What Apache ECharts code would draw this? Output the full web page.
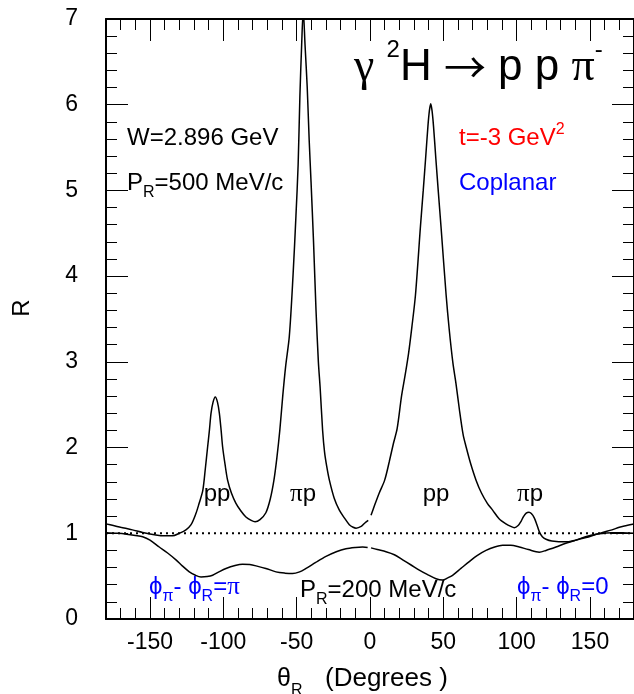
<!DOCTYPE html>
<html><head><meta charset="utf-8">
<script src="https://cdn.jsdelivr.net/npm/echarts@6/dist/echarts.min.js"></script>
<style>html,body{margin:0;padding:0;background:#fff}#c{width:634px;height:694px}</style>
</head><body><div id="c"></div>
<script>
// ---- data (theta_R in degrees, R) ----
const xMajorTicks = [-150, -100, -50, 0, 50, 100, 150];
// P_R = 500 MeV/c curve, theta < 0 piece
const highLeft = [[-180,1.11],[-175,1.09],[-170,1.07],[-162,1.04],[-155,1.01],[-146,0.98],[-140,0.97],[-134.6,0.97],[-130,1.0],[-125.5,1.04],[-122,1.1],[-118.7,1.23],[-116.5,1.35],[-114,1.5],[-112.3,1.75],[-110.7,2.01],[-109.5,2.2],[-108.4,2.4],[-107,2.53],[-105.5,2.59],[-104,2.53],[-102.7,2.4],[-101.5,2.2],[-100.5,2.01],[-98.8,1.8],[-97.1,1.62],[-94.5,1.47],[-91.4,1.35],[-88,1.26],[-84.6,1.19],[-81,1.15],[-78.4,1.135],[-75,1.16],[-71,1.24],[-68,1.4],[-65.5,1.62],[-63.5,1.88],[-61.5,2.2],[-59.5,2.6],[-57.5,2.95],[-55,3.3],[-52.5,4.0],[-50.5,4.7],[-49,5.3],[-47.8,6.1],[-46.6,6.7],[-45.5,7.1],[-44.3,6.7],[-42.8,6.2],[-41.5,5.6],[-40.2,5.1],[-38.5,4.4],[-36.8,3.6],[-35.2,3.0],[-34,2.7],[-32.3,2.2],[-31,1.95],[-29.5,1.78],[-27.7,1.62],[-24.4,1.41],[-20.9,1.27],[-17.5,1.18],[-14.1,1.1],[-11.5,1.07],[-9.5,1.06],[-6,1.08],[-3.5,1.12],[-1.2,1.15]];
// P_R = 500 MeV/c curve, theta > 0 piece
const highRight = [[0.7,1.21],[3,1.32],[6.3,1.47],[10,1.62],[13.2,1.84],[16,2.05],[18.5,2.22],[21.5,2.6],[24,2.85],[26.3,3.1],[28.5,3.4],[31,3.78],[34.4,4.58],[36.3,5.0],[37.9,5.37],[39.5,5.75],[40.5,5.93],[41.4,6.01],[42.3,5.93],[43.3,5.75],[44.9,5.37],[46.6,4.98],[48.4,4.58],[51.9,3.78],[54,3.38],[56.5,2.99],[58.6,2.75],[60.9,2.45],[63.5,2.15],[65.5,2.01],[68.5,1.82],[72.3,1.62],[76,1.47],[80,1.35],[83.6,1.27],[88,1.17],[92.7,1.11],[96,1.08],[98.4,1.065],[101,1.09],[103,1.14],[104.5,1.19],[106.5,1.235],[108.4,1.245],[110,1.23],[112,1.18],[113.8,1.1],[115.4,1.02],[117.5,0.96],[120,0.93],[124,0.91],[133.6,0.9],[140,0.92],[147.3,0.95],[153,0.98],[158.6,1.01],[165,1.04],[170,1.07],[175,1.09],[180,1.11]];
// P_R = 200 MeV/c curve
const lowLeft = [[-180,1.007],[-172,1.0],[-166,0.99],[-160,0.975],[-155,0.96],[-150,0.92],[-143.7,0.84],[-138,0.77],[-132.3,0.69],[-128,0.62],[-123.2,0.55],[-119,0.51],[-115.2,0.49],[-111,0.495],[-107.3,0.51],[-103,0.55],[-98.2,0.59],[-92,0.625],[-86.9,0.64],[-82,0.635],[-77.7,0.62],[-71,0.59],[-64.1,0.55],[-58,0.535],[-52.8,0.53],[-48,0.55],[-43.6,0.59],[-37,0.66],[-30,0.73],[-23,0.785],[-16.4,0.82],[-10,0.835],[-5,0.84],[-1.6,0.835]];
const lowRight = [[0.7,0.83],[5,0.81],[10.9,0.785],[16.6,0.75],[22.3,0.69],[28,0.63],[33.6,0.57],[39,0.52],[45,0.47],[49.5,0.455],[53,0.48],[56.3,0.51],[62,0.59],[67.7,0.67],[73,0.74],[79.1,0.8],[85,0.84],[90.4,0.86],[96,0.86],[101.8,0.84],[108,0.81],[115.4,0.78],[120,0.8],[126.8,0.84],[133,0.88],[140.5,0.92],[147,0.96],[154.1,0.99],[160,1.0],[165.4,1.007],[172,1.005],[180,1.0]];
const unityLine = [[-180,1],[180,1]];

const F = '"Liberation Sans", Arial, Helvetica, sans-serif';
const FS = '"Liberation Serif", "Times New Roman", serif';
const chart = echarts.init(document.getElementById('c'), null, {renderer:'canvas'});

function xAxisDef(pos, major, labels, line) {
  const a = {
    type:'value', min:-180, max:180, position:pos, gridIndex:0,
    axisLine:{show:line, onZero:false, lineStyle:{color:'#000', width:2}},
    splitLine:{show:false},
    axisLabel:{show:labels, color:'#000', fontSize:23, fontFamily:F, margin:12},
    axisTick:{show:true, inside:true, length: major ? 22 : 11, lineStyle:{color:'#000', width:1}}
  };
  if (major) { a.axisTick.customValues = xMajorTicks; a.axisLabel.customValues = xMajorTicks; }
  else { a.interval = 10; a.axisLabel.show = false; }
  return a;
}
function yAxisDef(pos, labels) {
  return {
    type:'value', min:0, max:7, interval:1, position:pos, gridIndex:0,
    axisLine:{show:true, onZero:false, lineStyle:{color:'#000', width:2}},
    splitLine:{show:false},
    axisLabel:{show:labels, color:'#000', fontSize:23, fontFamily:F, margin:28},
    axisTick:{show:true, inside:true, length:22, lineStyle:{color:'#000', width:1}},
    minorTick:{show:true, splitNumber:5, length:11, lineStyle:{color:'#000', width:1}}
  };
}
function curve(data) {
  return {type:'line', data:data, showSymbol:false, smooth:0.3, clip:true,
    lineStyle:{color:'#000', width:1.5}, xAxisIndex:0, yAxisIndex:0, z:3};
}
function txt(x, y, text, color, size, opts) {
  opts = opts || {};
  return {type:'text', x:x, y:y, z:100, rotation: opts.rotation || 0,
    style:{text:text, fill:color, fontSize:size, fontFamily:F,
      align: opts.align || 'left', verticalAlign:'middle',
      lineHeight: opts.lh || size + 2, rich: opts.rich || {}}};
}
function subStyle(color) {
  return {fontSize:16, fontFamily:F, lineHeight:16, verticalAlign:'bottom', fill:color};
}
function greek(color, size) {
  return {fontSize:size, fontFamily:FS, fill:color};
}

chart.setOption({
  animation:false,
  backgroundColor:'#fff',
  grid:{left:106, right:-1, top:19, bottom:75, containLabel:false},
  xAxis:[xAxisDef('bottom', true, true, true), xAxisDef('bottom', false, false, false),
         xAxisDef('top', true, false, true), xAxisDef('top', false, false, false)],
  yAxis:[yAxisDef('left', true), yAxisDef('right', false)],
  series:[
    curve(highLeft), curve(highRight), curve(lowLeft), curve(lowRight),
    {type:'line', data:unityLine, showSymbol:false, xAxisIndex:0, yAxisIndex:0, z:2,
     lineStyle:{color:'#000', width:2, type:[2,4]}}
  ],
  graphic:[
    txt(354, 67.5, '{g|γ} {sup|2}H {arr|→} p p {g|π}{sup|-}', '#000', 44,
        {lh:59, rich:{
          sup:{fontSize:24, fontFamily:F, lineHeight:24, verticalAlign:'top'},
          g:{fontSize:46, fontFamily:FS},
          arr:{fontSize:42, fontFamily:'"Noto Sans CJK SC", "DejaVu Sans", sans-serif'}}}),
    txt(127, 138, 'W=2.896 GeV', '#000', 24),
    txt(127, 183, 'P{sub|R}=500 MeV/c', '#000', 24, {lh:36, rich:{sub:subStyle('#000')}}),
    txt(459, 138, 't=-3 GeV{sup|2}', '#ff0000', 24,
        {lh:32, rich:{sup:{fontSize:16, fontFamily:F, lineHeight:16, verticalAlign:'top', fill:'#ff0000'}}}),
    txt(459, 183, 'Coplanar', '#0000ff', 24),
    txt(217, 494, 'pp', '#000', 24, {align:'center'}),
    txt(303, 494, '{g|π}p', '#000', 24, {align:'center', rich:{g:greek('#000', 25)}}),
    txt(436, 494, 'pp', '#000', 24, {align:'center'}),
    txt(530, 494, '{g|π}p', '#000', 24, {align:'center', rich:{g:greek('#000', 25)}}),
    txt(149, 587, 'ϕ{sub|π}- ϕ{sub|R}={g|π}', '#0000ff', 24,
        {lh:36, rich:{sub:subStyle('#0000ff'), g:greek('#0000ff', 25)}}),
    txt(300, 590, 'P{sub|R}=200 MeV/c', '#000', 24, {lh:36, rich:{sub:subStyle('#000')}}),
    txt(517, 587, 'ϕ{sub|π}- ϕ{sub|R}=0', '#0000ff', 24,
        {lh:36, rich:{sub:subStyle('#0000ff')}}),
    txt(277, 679, 'θ{sub|R}', '#000', 25, {lh:40, rich:{sub:subStyle('#000')}}),
    txt(325, 679, '(Degrees )', '#000', 26),
    txt(22, 308, 'R', '#000', 24, {align:'center', rotation:Math.PI/2})
  ]
});
</script>
</body></html>
